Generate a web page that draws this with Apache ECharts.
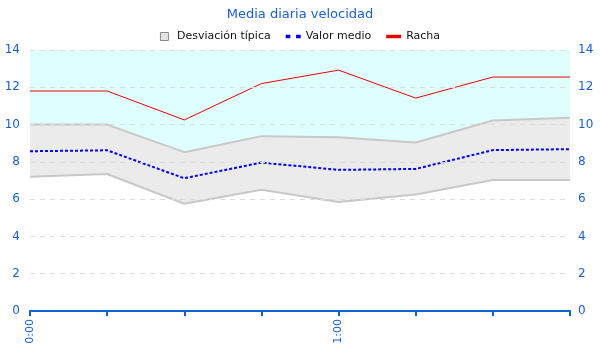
<!DOCTYPE html>
<html><head><meta charset="utf-8">
<script src="https://cdn.jsdelivr.net/npm/echarts@6/dist/echarts.min.js"></script>
<style>html,body{margin:0;padding:0;background:#fff}#c{width:600px;height:360px}</style>
</head><body><div id="c"></div>
<script>
const categories = ["0:00","0:15","0:30","0:45","1:00","1:15","1:30","1:45"];
const desvInferior = [7.2, 7.35, 5.75, 6.5, 5.85, 6.25, 7.03, 7.03];
const desvSuperior = [10.0, 10.0, 8.52, 9.38, 9.32, 9.04, 10.22, 10.37];
const valorMedio = [8.57, 8.62, 7.12, 7.96, 7.57, 7.62, 8.63, 8.68];
const racha = [11.8, 11.8, 10.25, 12.2, 12.92, 11.42, 12.55, 12.55];
const yTicks = [0, 2, 4, 6, 8, 10, 12, 14];

const yMax = yTicks[yTicks.length-1];
const band = desvSuperior.map((v,i)=>+(v-desvInferior[i]).toFixed(3));
const topFill = desvSuperior.map(v=>+(yMax-v).toFixed(3));
const blue = '#1a5fd0';
const chart = echarts.init(document.getElementById('c'));
chart.setOption({
  animation:false,
  textStyle:{fontFamily:'DejaVu Sans'},
  title:{text:'Media diaria velocidad',left:'center',top:3,textStyle:{color:blue,fontSize:13,fontWeight:'normal',fontFamily:'DejaVu Sans'}},
  legend:{left:'center',top:26,itemGap:15,itemWidth:15,itemHeight:8,textStyle:{color:'#111',fontSize:11,fontFamily:'DejaVu Sans'},
    data:[
      {name:'Desviación típica',icon:'path://M0,0h10v10h-10z',itemStyle:{color:'#e4e4e4',borderColor:'#888',borderWidth:1}},
      {name:'Valor medio',icon:'path://M0,0h4v3h-4zM9,0h4v3h-4z',itemStyle:{color:'#0000ee',borderWidth:0}},
      {name:'Racha',icon:'path://M0,0h13v3h-13z',itemStyle:{color:'#ee0000',borderWidth:0}}
    ]},
  grid:{left:30,right:30,top:50,bottom:49},
  xAxis:{type:'category',data:categories,boundaryGap:false,z:12,
    axisLine:{lineStyle:{color:'#0a64d2',width:2}},
    axisTick:{show:true,length:5,interval:0,lineStyle:{color:'#0a64d2',width:2}},
    axisLabel:{rotate:90,color:blue,fontSize:11,interval:(i,v)=>v.endsWith(':00')}},
  yAxis:[
    {type:'value',min:0,max:yMax,interval:2,z:10,axisLine:{show:false},axisTick:{show:false},
     axisLabel:{color:blue,fontSize:12,margin:10},
     splitLine:{lineStyle:{color:'#dcdcdc',type:[5,5]}}},
    {type:'value',min:0,max:yMax,interval:2,position:'right',axisLine:{show:false},axisTick:{show:false},
     axisLabel:{color:blue,fontSize:12,margin:8},splitLine:{show:false}}
  ],
  series:[
    {name:'inf',type:'line',stack:'d',data:desvInferior,symbol:'none',lineStyle:{color:'#c8c8c8',width:2},z:2,silent:true},
    {name:'Desviación típica',type:'line',stack:'d',data:band,symbol:'none',itemStyle:{color:'#e4e4e4'},lineStyle:{color:'#c8c8c8',width:2},areaStyle:{color:'#ebebeb',opacity:1},z:2},
    {name:'sup',type:'line',stack:'d',data:topFill,symbol:'none',lineStyle:{width:0},areaStyle:{color:'#dfffff',opacity:1},z:1,silent:true},
    {name:'Valor medio',type:'line',data:valorMedio,symbol:'none',itemStyle:{color:'#0000ee'},lineStyle:{color:'#0000ee',width:2,type:[3,2]},z:4},
    {name:'Racha',type:'line',data:racha,symbol:'none',itemStyle:{color:'#ee0000'},lineStyle:{color:'#ee0000',width:1},z:4}
  ]
});
</script></body></html>
